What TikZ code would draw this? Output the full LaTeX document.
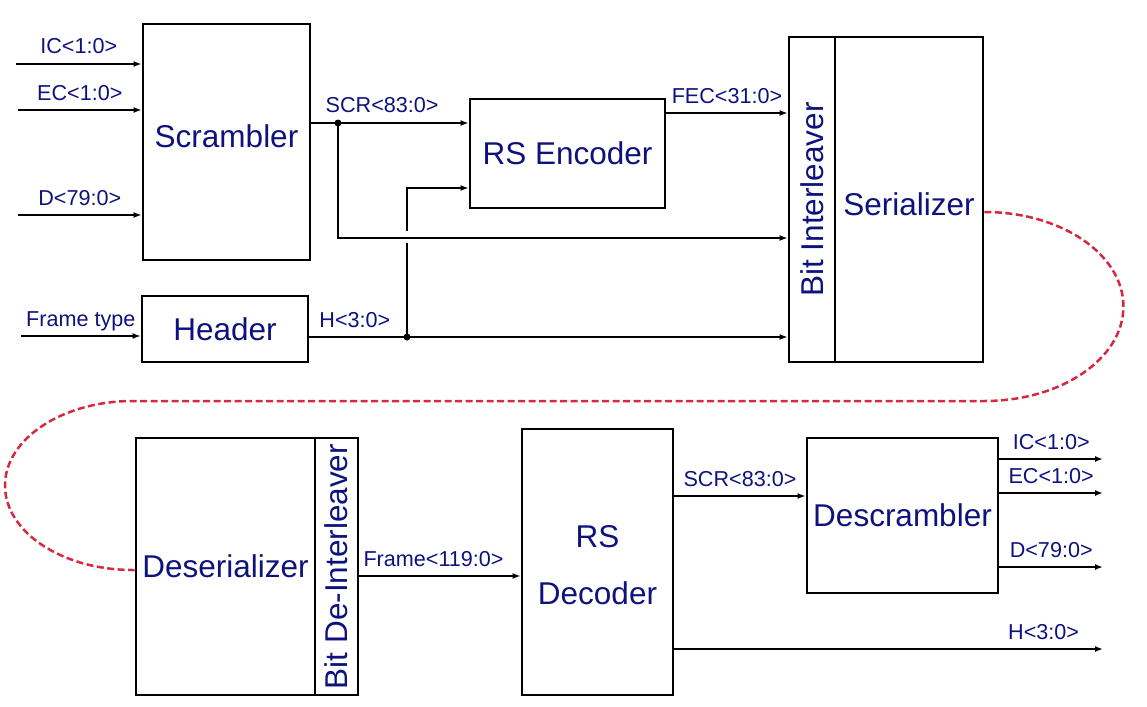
\documentclass[tikz,border=0pt]{standalone}
\usepackage{fontspec}
\setmainfont{Liberation Sans}
\usepackage{graphicx}
\usetikzlibrary{arrows.meta, positioning}
\definecolor{txtblue}{RGB}{14,18,124}
\definecolor{linkred}{RGB}{214,40,64}

\begin{document}
\begin{tikzpicture}[x=1pt, y=-1pt,
	blk/.style={draw, line width=2.8pt, text=txtblue, inner sep=0pt, align=center,
		font=\fontsize{31.5}{56}\selectfont},
	sig/.style={line width=2pt, -{Latex[length=8pt, width=6pt]}},
	lbl/.style={text=txtblue, font=\fontsize{21.6}{24}\selectfont, anchor=base,
		inner sep=0pt, yshift=10pt},
	jdot/.style={circle, fill, inner sep=0pt, minimum size=7pt}]
	\useasboundingbox (0,0) rectangle (1147,706);

	\node[blk, minimum width=167pt, minimum height=236pt] (scram) at (226.5,142) {\raisebox{6pt}[\height][\depth]{Scrambler}};
	\node[blk, minimum width=166pt, minimum height=66pt] (header) at (225,329) {Header};
	\node[blk, minimum width=195pt, minimum height=109pt] (enc) at (567.5,153.5) {RS Encoder};
	\node[blk, minimum width=46pt, minimum height=325pt] (bil) at (812,199.5) {\rotatebox{90}{Bit Interleaver}};
	\node[blk, minimum width=148pt, minimum height=325pt] (ser) at (909,199.5) {\raisebox{-4.5pt}[\height][\depth]{Serializer}};
	\node[blk, minimum width=179pt, minimum height=257pt] (deser) at (225.5,566.5) {Deserializer};
	\node[blk, minimum width=43pt, minimum height=257pt] (dil) at (336.5,566.5) {\rotatebox{90}{Bit De-Interleaver}};
	\node[blk, minimum width=151pt, minimum height=266pt] (dec) at (597.5,562) {\raisebox{-3pt}[\height][\depth]{\shortstack{RS\\[31pt]Decoder}}};
	\node[blk, minimum width=191pt, minimum height=155pt] (descr) at (902.5,515.5) {Descrambler};

	\coordinate (icin) at (16,64);
	\coordinate (ecin) at (18,110);
	\coordinate (din) at (18,215);
	\coordinate (ftin) at (21,336);
	\draw[sig] (icin) -- (icin -| scram.west) node[lbl, midway] {IC<1:0>};
	\draw[sig] (ecin) -- (ecin -| scram.west) node[lbl, midway] {EC<1:0>};
	\draw[sig] (din) -- (din -| scram.west) node[lbl, midway] {D<79:0>};
	\draw[sig] (ftin) -- (ftin -| header.west) node[lbl, midway] {Frame type};

	\coordinate (scrj) at (338,123);
	\coordinate (scrb) at (338,238);
	\draw[sig] (scrj -| scram.east) -- (scrj -| enc.west) node[lbl, pos=0.45] {SCR<83:0>};
	\draw[sig] (scrj) -- (scrb) -- (scrb -| bil.west);
	\node[jdot] (scrdot) at (scrj) {};

	\coordinate (hj) at (407,337);
	\coordinate (hgapb) at (407,243);
	\coordinate (hgapt) at (407,231);
	\coordinate (henc) at (407,188);
	\draw[sig] (hj -| header.east) -- (hj -| bil.west) node[lbl, pos=0, anchor=base west, xshift=9pt] {H<3:0>};
	\draw[line width=2pt] (hj) -- (hgapb);
	\draw[sig] (hgapt) -- (henc) -- (henc -| enc.west);
	\node[jdot] (hdot) at (hj) {};

	\coordinate (fec) at (700,113);
	\draw[sig] (fec -| enc.east) -- (fec -| bil.west) node[lbl, midway] {FEC<31:0>};

	\draw[linkred, line width=2.5pt, dash pattern=on 7pt off 3.5pt]
		([yshift=-12.5pt]ser.east) arc[start angle=-90, end angle=90, x radius=139, y radius=94.5]
		-- (133,401) arc[start angle=-90, end angle=-270, x radius=128, y radius=84.5]
		-- ([yshift=-3.5pt]deser.west);

	\coordinate (frm) at (440,576);
	\draw[sig] (frm -| dil.east) -- (frm -| dec.west) node[lbl, pos=0.46] {Frame<119:0>};

	\coordinate (dscr) at (740,496);
	\draw[sig] (dscr -| dec.east) -- (dscr -| descr.west) node[lbl, midway] {SCR<83:0>};
	\coordinate (hout) at (1103,649);
	\draw[sig] (hout -| dec.east) -- (hout) node[lbl, pos=1, anchor=base east, xshift=-23pt] {H<3:0>};

	\coordinate (icout) at (1103,459);
	\coordinate (ecout) at (1103,493);
	\coordinate (dout) at (1103,567);
	\draw[sig] (icout -| descr.east) -- (icout) node[lbl, midway] {IC<1:0>};
	\draw[sig] (ecout -| descr.east) -- (ecout) node[lbl, midway] {EC<1:0>};
	\draw[sig] (dout -| descr.east) -- (dout) node[lbl, midway] {D<79:0>};
\end{tikzpicture}
\end{document}
